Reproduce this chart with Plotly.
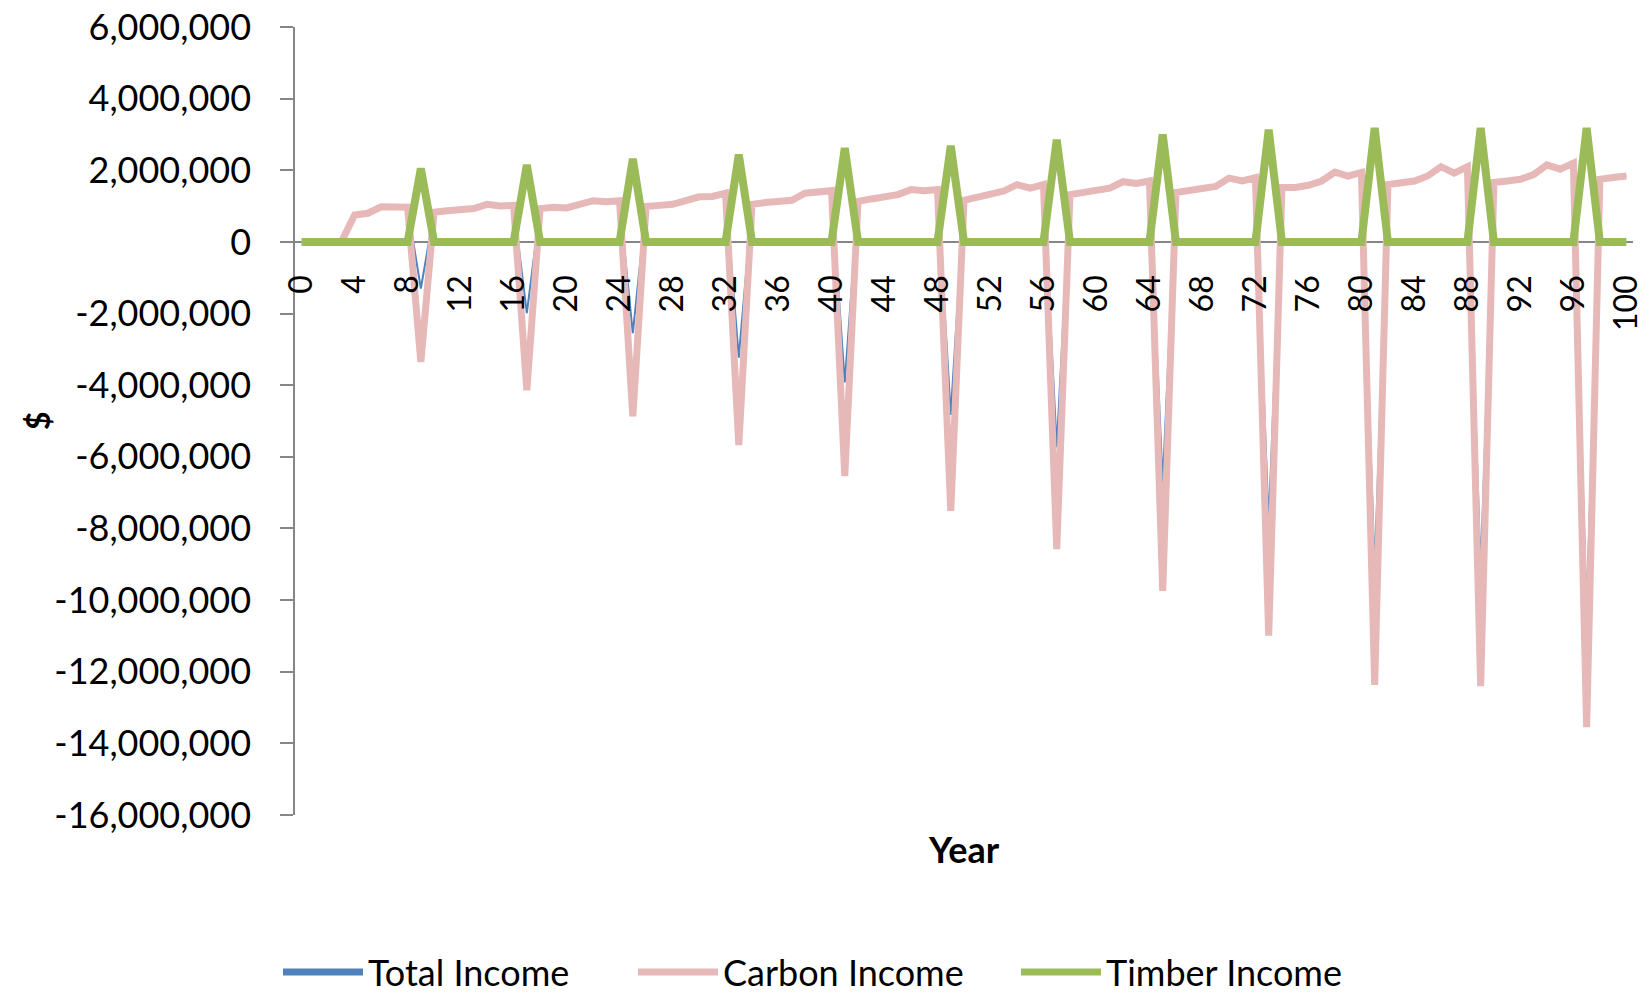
import plotly.graph_objects as go

years = list(range(0, 101))

carbon_income = [
    0, 0, 0, 0, 750000, 800000, 980000, 960000, 970000, -3350000,
    830000, 870000, 900000, 930000, 1050000, 1000000, 1020000, -4140000, 930000, 970000,
    950000, 1040000, 1150000, 1120000, 1150000, -4870000, 990000, 1020000, 1050000, 1150000,
    1260000, 1270000, 1360000, -5670000, 1050000, 1100000, 1120000, 1160000, 1360000, 1380000,
    1430000, -6540000, 1130000, 1200000, 1260000, 1320000, 1460000, 1430000, 1460000, -7510000,
    1160000, 1260000, 1340000, 1420000, 1600000, 1500000, 1600000, -8580000, 1320000, 1390000,
    1440000, 1500000, 1680000, 1630000, 1700000, -9740000, 1380000, 1430000, 1490000, 1550000,
    1780000, 1700000, 1790000, -10990000, 1520000, 1520000, 1580000, 1700000, 1950000, 1840000,
    1940000, -12370000, 1600000, 1650000, 1700000, 1840000, 2100000, 1920000, 2100000, -12400000,
    1660000, 1700000, 1750000, 1880000, 2150000, 2030000, 2200000, -13550000, 1750000, 1800000,
    1840000,
]

timber_income = [
    0, 0, 0, 0, 0, 0, 0, 0, 0, 2050000,
    0, 0, 0, 0, 0, 0, 0, 2150000, 0, 0,
    0, 0, 0, 0, 0, 2320000, 0, 0, 0, 0,
    0, 0, 0, 2440000, 0, 0, 0, 0, 0, 0,
    0, 2620000, 0, 0, 0, 0, 0, 0, 0, 2680000,
    0, 0, 0, 0, 0, 0, 0, 2850000, 0, 0,
    0, 0, 0, 0, 0, 3000000, 0, 0, 0, 0,
    0, 0, 0, 3130000, 0, 0, 0, 0, 0, 0,
    0, 3180000, 0, 0, 0, 0, 0, 0, 0, 3180000,
    0, 0, 0, 0, 0, 0, 0, 3180000, 0, 0,
    0,
]

total_income = [
    0, 0, 0, 0, 750000, 800000, 980000, 960000, 970000, -1300000,
    830000, 870000, 900000, 930000, 1050000, 1000000, 1020000, -1990000, 930000, 970000,
    950000, 1040000, 1150000, 1120000, 1150000, -2550000, 990000, 1020000, 1050000, 1150000,
    1260000, 1270000, 1360000, -3230000, 1050000, 1100000, 1120000, 1160000, 1360000, 1380000,
    1430000, -3920000, 1130000, 1200000, 1260000, 1320000, 1460000, 1430000, 1460000, -4830000,
    1160000, 1260000, 1340000, 1420000, 1600000, 1500000, 1600000, -5730000, 1320000, 1390000,
    1440000, 1500000, 1680000, 1630000, 1700000, -6740000, 1380000, 1430000, 1490000, 1550000,
    1780000, 1700000, 1790000, -7860000, 1520000, 1520000, 1580000, 1700000, 1950000, 1840000,
    1940000, -9190000, 1600000, 1650000, 1700000, 1840000, 2100000, 1920000, 2100000, -9220000,
    1660000, 1700000, 1750000, 1880000, 2150000, 2030000, 2200000, -10370000, 1750000, 1800000,
    1840000,
]

x_tick_vals = list(range(0, 101, 4))
x_tick_text = [str(v) for v in x_tick_vals]

y_tick_vals = [6000000, 4000000, 2000000, 0, -2000000, -4000000, -6000000, -8000000,
               -10000000, -12000000, -14000000, -16000000]
y_tick_text = ["6,000,000", "4,000,000", "2,000,000", "0", "-2,000,000", "-4,000,000",
               "-6,000,000", "-8,000,000", "-10,000,000", "-12,000,000", "-14,000,000",
               "-16,000,000"]

series_names = ["Total Income", "Carbon Income", "Timber Income"]
series_colors = ["#4F81BD", "#E6B9B8", "#9BBB59"]
legend_ids = ["legend", "legend2", "legend3"]
legend_left_px = [278, 633, 1016]

FONT = "Lato"
W, H = 1648, 994
L, R, T, B = 295, 15, 27, 179
plot_w = W - L - R
plot_h = H - T - B

fig = go.Figure()

fig.add_trace(go.Scatter(x=years, y=total_income, mode="lines", name=series_names[0],
                         line=dict(color=series_colors[0], width=2), showlegend=False))
fig.add_trace(go.Scatter(x=years, y=carbon_income, mode="lines", name=series_names[1],
                         line=dict(color=series_colors[1], width=7), showlegend=False))
fig.add_trace(go.Scatter(x=years, y=timber_income, mode="lines", name=series_names[2],
                         line=dict(color=series_colors[2], width=8), showlegend=False))

# legend entries (thick samples as in the original), one legend per entry
for name, color, lg in zip(series_names, series_colors, legend_ids):
    fig.add_trace(go.Scatter(x=[None], y=[None], mode="lines", name=name,
                             line=dict(color=color, width=7), legend=lg))

zero_pos = (0 - (-16000000)) / (6000000 - (-16000000))

legend_common = dict(
    orientation="h", xref="container", yref="container", y=0.022,
    xanchor="left", yanchor="middle", itemwidth=80,
    font=dict(family=FONT, size=36, color="black"), bgcolor="rgba(0,0,0,0)",
    itemclick=False, itemdoubleclick=False,
)

fig.update_layout(
    width=W, height=H,
    margin=dict(l=L, r=R, t=T, b=B, autoexpand=False),
    plot_bgcolor="white", paper_bgcolor="white",
    font=dict(family=FONT, color="black"),
    xaxis=dict(
        range=[-0.5, 100.5], tickmode="array", tickvals=x_tick_vals, ticktext=x_tick_text,
        tickangle=-90, anchor="free", position=zero_pos, showline=False, showgrid=False,
        zeroline=False, ticks="", ticklabelstandoff=26, automargin=False,
        ticklabeloverflow="allow",
        tickfont=dict(family=FONT, size=32, color="black"),
    ),
    yaxis=dict(
        range=[-16000000, 6000000], tickmode="array", tickvals=y_tick_vals,
        ticktext=y_tick_text, showline=True, linecolor="#868686", linewidth=1.5,
        ticks="outside", ticklen=13, tickcolor="#868686", tickwidth=1.5, showgrid=False,
        zeroline=True, zerolinecolor="#868686", zerolinewidth=1.5,
        ticklabelstandoff=22, automargin=False,
        tickfont=dict(family=FONT, size=36, color="black"),
    ),
    annotations=[
        dict(text="<b>Year</b>", xref="paper", yref="paper", x=0.5,
             y=(-(849 - (T + plot_h))) / plot_h, xanchor="center", yanchor="middle",
             showarrow=False, font=dict(family=FONT, size=36, color="black")),
        dict(text="<b>$</b>", xref="paper", yref="paper", x=(37 - L) / plot_w, y=0.5,
             xanchor="center", yanchor="middle", textangle=-90, showarrow=False,
             font=dict(family=FONT, size=32, color="black")),
    ],
)

for lg, left in zip(legend_ids, legend_left_px):
    fig.update_layout({lg: dict(legend_common, x=left / W)})

fig.write_html("out.html", config={"displayModeBar": False},
               post_script="document.body.style.margin='0';")
